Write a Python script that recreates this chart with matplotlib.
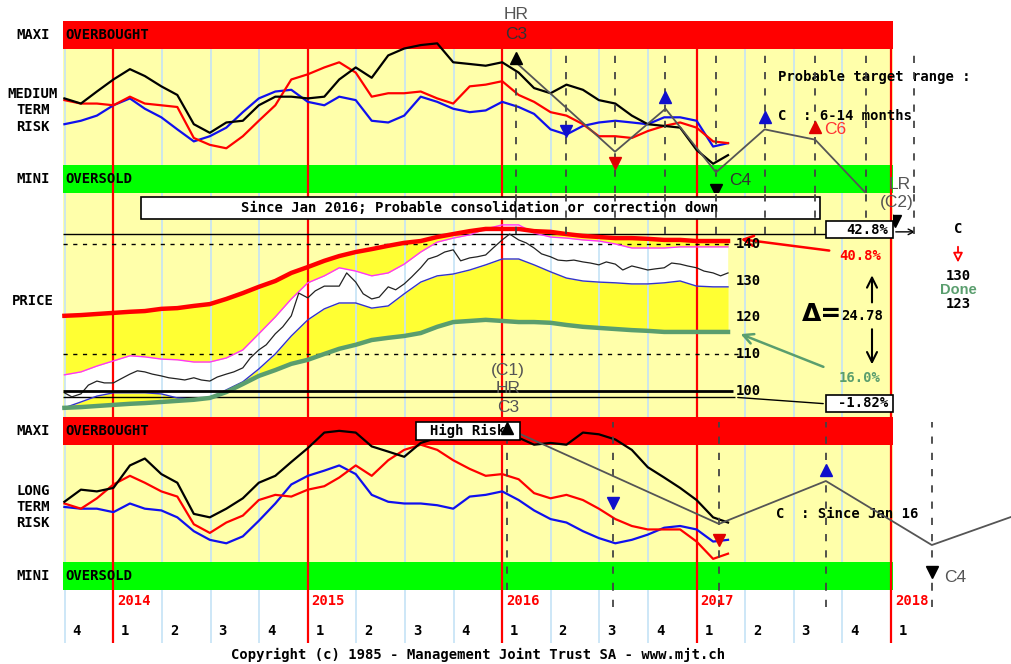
import numpy as np
import pandas as pd
import matplotlib
matplotlib.use("Agg")
import matplotlib.pyplot as plt
from matplotlib.patches import Rectangle

# ---------------- data ----------------
# risk indicators: 0 = bottom of OVERSOLD band, 100 = top of OVERBOUGHT band
medium_black = [55, 52, 59, 66, 72, 68, 62, 57, 40, 35, 41, 42, 51, 56, 56, 55, 56, 66, 73, 67,
                80, 84, 86, 87, 76, 75, 74, 76, 70, 61, 58, 63, 60, 54, 52, 45, 40, 39, 38, 25,
                17, 22]
medium_red = [54, 52, 52, 51, 56, 52, 51, 50, 32, 28, 26, 33, 42, 51, 66, 69, 73, 76, 70, 56,
              58, 58, 59, 55, 52, 62, 63, 65, 57, 53, 47, 45, 40, 33, 33, 32, 36, 39, 41, 38,
              30, 29]
medium_blue = [40, 42, 45, 51, 55, 49, 44, 37, 30, 33, 38, 47, 55, 59, 60, 53, 51, 56, 54, 42,
               41, 45, 56, 53, 49, 47, 48, 53, 50, 46, 37, 34, 39, 41, 42, 41, 40, 44, 44, 42,
               27, 29]
long_black = [51, 58, 57, 59, 72, 76, 67, 62, 44, 42, 47, 53, 62, 66, 74, 82, 91, 92, 91, 83,
              80, 77, 85, 88, 90, 88, 89, 91, 88, 84, 85, 84, 91, 90, 87, 81, 71, 65, 59, 52,
              42, 39]
long_red = [50, 47, 53, 61, 66, 62, 57, 54, 38, 33, 39, 43, 52, 55, 54, 58, 60, 65, 72, 66,
            75, 81, 84, 81, 75, 70, 66, 67, 64, 56, 53, 55, 52, 47, 41, 37, 35, 35, 35, 28,
            18, 21]
long_blue = [48, 47, 47, 45, 50, 47, 46, 42, 34, 29, 27, 31, 40, 50, 61, 66, 69, 72, 67, 55,
             51, 50, 50, 49, 47, 54, 55, 57, 52, 46, 41, 39, 34, 30, 27, 29, 32, 36, 37, 35,
             28, 29]

# price envelopes (monthly)
upper_env = [120.4, 120.6, 120.9, 121.2, 121.5, 121.7, 122.3, 122.5, 123.1, 123.6,
             125.0, 126.6, 128.3, 129.9, 132.1, 133.7, 135.4, 136.7, 137.8, 138.6,
             139.5, 140.3, 140.8, 141.9, 142.7, 143.5, 144.1, 144.1, 144.1, 143.5,
             143.3, 142.7, 142.2, 141.9, 141.6, 141.6, 141.4, 141.1, 141.1, 140.8,
             140.8, 140.8]
lower_env = [95.3, 95.5, 95.8, 96.1, 96.4, 96.6, 96.9, 97.2, 97.5, 98.0,
             99.6, 101.8, 104.0, 105.6, 107.3, 108.4, 110.0, 111.4, 112.5, 113.8,
             114.4, 114.9, 115.7, 117.4, 118.7, 119.0, 119.3, 119.0, 118.7, 118.7,
             118.5, 117.9, 117.4, 117.1, 116.8, 116.5, 116.3, 116.0, 116.0, 116.0,
             116.0, 116.0]
band_top = [104.3, 105.1, 106.7, 108.1, 109.5, 109.2, 108.6, 108.4, 107.8, 107.8,
            108.9, 111.1, 115.5, 120.1, 125.0, 129.4, 131.3, 133.5, 132.6, 131.3,
            132.1, 134.5, 137.8, 140.5, 141.6, 142.5, 144.1, 145.2, 145.2, 143.0,
            141.9, 141.6, 141.1, 140.8, 140.0, 138.9, 138.9, 138.9, 139.2, 139.2,
            139.2, 139.2]
band_bottom = [95.3, 96.9, 98.5, 99.4, 99.4, 99.4, 99.1, 98.0, 97.7, 98.0,
               100.2, 102.4, 105.9, 110.0, 114.9, 119.3, 122.3, 123.9, 123.9, 122.5,
               123.1, 126.4, 129.6, 131.3, 131.8, 132.9, 134.3, 135.9, 135.9, 134.3,
               132.4, 130.7, 129.9, 129.6, 129.4, 129.1, 129.1, 129.4, 129.9, 128.5,
               128.3, 128.3]
# price (twice a month)
price = [99.4, 98.3, 99.1, 101.5, 102.6, 102.1, 102.1, 103.2, 104.5, 105.4,
         105.1, 104.5, 104.0, 103.5, 103.2, 102.9, 103.5, 102.9, 102.6, 103.7,
         104.5, 105.1, 106.2, 108.9, 111.1, 112.5, 115.5, 117.4, 120.4, 126.6,
         125.3, 127.2, 128.5, 128.5, 128.5, 132.1, 129.6, 126.4, 125.0, 125.5,
         128.3, 127.5, 129.1, 131.0, 133.5, 135.9, 136.7, 137.8, 138.4, 135.4,
         136.2, 136.5, 137.0, 138.9, 141.1, 142.7, 141.1, 140.3, 138.9, 137.3,
         136.5, 135.6, 135.4, 135.6, 135.1, 134.8, 134.3, 135.1, 134.5, 132.9,
         134.0, 133.5, 132.9, 133.2, 133.5, 134.8, 134.5, 134.0, 133.5, 132.6,
         132.1, 131.3, 132.1]
price_ticks = [100, 110, 120, 130, 140]

# cycle projections, medium term panel
top_cycle_dates = [2016.07, 2016.58, 2016.84, 2017.10, 2017.35, 2017.61, 2017.87, 2018.01]
top_cycle_levels = [76, 24, 49, 12, 37, 31, 0, -13]
top_dash_dates = [2016.07, 2016.33, 2016.58, 2016.84, 2017.10, 2017.35, 2017.61, 2017.87, 2018.12]
top_marker_dates = [2016.07, 2016.33, 2016.58, 2016.84, 2017.10, 2017.35, 2017.61, 2018.02]
top_marker_levels = [78.5, 36, 17.4, 55.8, 1.7, 44, 38.4, -16]
top_marker_kinds = ['^', 'v', 'v', '^', 'v', '^', '^', 'v']
top_marker_colors = ['black', '#1010cc', '#e00000', '#1010cc', 'black', '#1010cc', '#e00000', 'black']

# cycle projections, long term panel
low_cycle_dates = [2016.025, 2017.115, 2017.665, 2018.21, 2018.617]
low_cycle_levels = [93.6, 38.2, 63, 26, 42.2]
low_marker_dates = [2016.025, 2016.57, 2017.115, 2017.665, 2018.21]
low_marker_levels = [93.6, 50.3, 28.9, 69.4, 10.4]
low_marker_kinds = ['^', 'v', 'v', '^', 'v']
low_marker_colors = ['black', '#1010cc', '#e00000', '#1010cc', 'black']

year_lines = [2014, 2015, 2016, 2017, 2018]

# ---------------- helpers ----------------
LIGHT_YELLOW = '#ffffaa'
BRIGHT_YELLOW = '#ffff33'
QBLUE = '#c5e3f6'
GREEN_LINE = '#5a9e6e'
GRAY = '#555555'
MONO = dict(family='DejaVu Sans Mono', weight='bold', fontsize=10)
SANS = dict(family='Liberation Sans', fontsize=12.5)


def to_year(dates):
    days = np.where(dates.is_leap_year, 366.0, 365.0)
    return dates.year.values + (dates.dayofyear.values - 1) / days


def at_x(px):
    # pixel column of the picture -> decimal year (for label placement)
    return 2016 + (px - 502.2) / 194.4


t_month = to_year(pd.date_range('2013-10-01', periods=len(upper_env), freq='MS'))
t_half = to_year(pd.date_range('2013-10-01', periods=len(price), freq='SMS'))
quarters = np.arange(2013.75, 2018.01, 0.25)
PANEL_L, PANEL_R = at_x(63), at_x(893)

fig = plt.figure(figsize=(10.11, 6.64), dpi=100)
H = 664.0


def add_ax(top, bottom):
    ax = fig.add_axes([0, 1 - bottom / H, 1, (bottom - top) / H])
    ax.set_xlim(at_x(0), at_x(1011))
    ax.axis('off')
    return ax


ax_top = add_ax(21, 193)
ax_px = add_ax(193, 417)
ax_low = add_ax(417, 590)
ax_t = add_ax(590, 643)
ax_top.set_ylim(0, 100)
ax_low.set_ylim(0, 100)
ax_px.set_ylim(92.8, 153.9)
ax_t.set_ylim(0, 1)


def risk_panel(ax, black, red, blue, label):
    ax.fill_between([PANEL_L, PANEL_R], 16, 84, color=LIGHT_YELLOW, lw=0, zorder=0)
    ax.vlines(quarters, 16, 84, color=QBLUE, lw=1.2, zorder=0.5)
    ax.fill_between([PANEL_L, PANEL_R], 84, 100, color='#ff0000', lw=0, zorder=1)
    ax.fill_between([PANEL_L, PANEL_R], 0, 16, color='#00ff00', lw=0, zorder=1)
    ax.vlines(year_lines, 0, 84, color='#ff0000', lw=1.6, zorder=2)
    ax.plot(t_month, blue, color='#1010ee', lw=1.6, zorder=3)
    ax.plot(t_month, red, color='#ff0000', lw=1.6, zorder=3.1)
    ax.plot(t_month, black, color='black', lw=1.6, zorder=3.2)
    ax.text(at_x(65), 92, 'OVERBOUGHT', va='center', ha='left', zorder=5, **MONO)
    ax.text(at_x(65), 8, 'OVERSOLD', va='center', ha='left', zorder=5, **MONO)
    ax.text(at_x(33), 92, 'MAXI', va='center', ha='center', **MONO)
    ax.text(at_x(33), 8, 'MINI', va='center', ha='center', **MONO)
    ax.text(at_x(33), 48, label, va='center', ha='center', linespacing=1.2, **MONO)


def markers(ax, dates, levels, kinds, colors):
    for d, v, k, c in zip(dates, levels, kinds, colors):
        ax.plot([d], [v], marker=k, color=c, ms=8, ls='none', clip_on=False, zorder=7)


# ---------------- medium term risk ----------------
risk_panel(ax_top, medium_black, medium_red, medium_blue, 'MEDIUM\nTERM\nRISK')
ax_top.vlines(top_dash_dates, 0, 84, color='#444444', lw=1.3, linestyles=(0, (4, 5)), zorder=4)
ax_top.plot(top_cycle_dates, top_cycle_levels, color=GRAY, lw=1.3, clip_on=False, zorder=4.5)
markers(ax_top, top_marker_dates, top_marker_levels, top_marker_kinds, top_marker_colors)
ax_top.text(at_x(516), 104, 'HR', ha='center', va='center', color=GRAY, **SANS)
ax_top.text(at_x(516), 92, 'C3', ha='center', va='center', color='#333333', **SANS)
ax_top.text(at_x(729), 7, 'C4', ha='left', va='center', color='#333333', **SANS)
ax_top.text(at_x(778), 67.4, 'Probable target range :', ha='left', va='center', **MONO)
ax_top.text(at_x(778), 44.8, 'C  : 6-14 months', ha='left', va='center', **MONO)
ax_top.text(at_x(824), 37.2, 'C6', ha='left', va='center', color='#ff3333', **SANS)
ax_top.text(at_x(900), 5, 'LR', ha='center', va='center', color=GRAY, **SANS)

# ---------------- price ----------------
ax_px.fill_between([PANEL_L, PANEL_R], 92.8, 153.9, color=LIGHT_YELLOW, lw=0, zorder=0)
ax_px.fill_between(t_month, lower_env, upper_env, color=BRIGHT_YELLOW, lw=0, zorder=1)
ax_px.fill_between(t_month, band_bottom, band_top, color='white', lw=0, zorder=1.2)
ax_px.vlines(quarters, 92.8, 153.9, color=QBLUE, lw=1.2, zorder=1.5)
ax_px.vlines(year_lines, 92.8, 153.9, color='#ff0000', lw=1.6, zorder=2)
ax_px.hlines([140, 110], PANEL_L, at_x(740), color='black', lw=1, linestyles=(0, (3, 4)), zorder=2.2)
ax_px.hlines(142.8, PANEL_L, at_x(826), color='black', lw=1, zorder=2.2)
ax_px.hlines(100, PANEL_L, at_x(733), color='black', lw=2, zorder=2.6)
ax_px.hlines(98.18, PANEL_L, at_x(735), color='black', lw=1, zorder=2.2)
ax_px.plot(t_month, band_top, color='#ff33ff', lw=1, zorder=2.3)
ax_px.plot(t_month, band_bottom, color='#3333cc', lw=1, zorder=2.3)
ax_px.plot(t_half, price, color='#222222', lw=0.9, zorder=2.4)
ax_px.plot(t_month, upper_env, color='#ff0000', lw=3.2, zorder=2.5)
ax_px.plot(t_month, lower_env, color=GREEN_LINE, lw=3.2, zorder=2.5)
ax_px.vlines(top_dash_dates, 142.8, 153.9, color='#444444', lw=1.3, linestyles=(0, (4, 5)), zorder=4)

ax_px.add_patch(Rectangle((at_x(141), 146.8), at_x(820) - at_x(141), 6.0,
                          fc='white', ec='black', lw=1.2, zorder=3))
ax_px.text(at_x(480), 149.8, 'Since Jan 2016; Probable consolidation or correction down',
           ha='center', va='center', zorder=3.5, **MONO)
for p in price_ticks:
    ax_px.text(at_x(748), p, str(p), ha='center', va='center', zorder=5, **MONO)

ax_px.text(at_x(33), 124.5, 'PRICE', ha='center', va='center', **MONO)
ax_px.add_patch(Rectangle((at_x(826), 141.6), at_x(893) - at_x(826), 4.7,
                          fc='white', ec='black', lw=1.2, zorder=5, clip_on=False))
ax_px.text(at_x(888), 143.9, '42.8%', ha='right', va='center', zorder=6, **MONO)
ax_px.add_patch(Rectangle((at_x(826), 94.2), at_x(893) - at_x(826), 4.6,
                          fc='white', ec='black', lw=1.2, zorder=5, clip_on=False))
ax_px.text(at_x(888), 96.5, '-1.82%', ha='right', va='center', zorder=6, **MONO)
ax_px.annotate('', xy=(at_x(826), 96.4), xytext=(at_x(735), 98.18),
               arrowprops=dict(arrowstyle='-', color='black', lw=1))
ax_px.annotate('', xy=(at_x(918), 143.3), xytext=(at_x(893), 143.3),
               arrowprops=dict(arrowstyle='->', color='black', lw=1))
ax_px.annotate('', xy=(at_x(738), 141.4), xytext=(at_x(832), 138.1),
               arrowprops=dict(arrowstyle='->', color='#ff0000', lw=1.8, mutation_scale=18))
ax_px.annotate('', xy=(at_x(738), 115.7), xytext=(at_x(826), 106.2),
               arrowprops=dict(arrowstyle='->', color=GREEN_LINE, lw=1.8, mutation_scale=18))
ax_px.text(at_x(860), 136.6, '40.8%', ha='center', va='center', color='#ff0000', **MONO)
ax_px.text(at_x(862), 120.4, '24.78', ha='center', va='center', **MONO)
ax_px.text(at_x(860), 103.4, '16.0%', ha='center', va='center', color=GREEN_LINE, **MONO)
ax_px.text(at_x(822), 120.9, '\u0394=', ha='center', va='center', fontsize=18,
           family='DejaVu Sans', weight='bold')
ax_px.annotate('', xy=(at_x(872), 132.2), xytext=(at_x(872), 123.3),
               arrowprops=dict(arrowstyle='->', color='black', lw=1.5, mutation_scale=18))
ax_px.annotate('', xy=(at_x(872), 106.4), xytext=(at_x(872), 117.5),
               arrowprops=dict(arrowstyle='->', color='black', lw=1.5, mutation_scale=18))
ax_px.text(at_x(958), 144.1, 'C', ha='center', va='center', **MONO)
ax_px.annotate('', xy=(at_x(958), 134.2), xytext=(at_x(958), 140.0),
               arrowprops=dict(arrowstyle='-|>', fc='white', ec='#ff0000', lw=1.3, mutation_scale=14))
ax_px.text(at_x(958), 131.3, '130', ha='center', va='center', **MONO)
ax_px.text(at_x(958), 127.5, 'Done', ha='center', va='center', color=GREEN_LINE,
           family='Liberation Sans', weight='bold', fontsize=10.5)
ax_px.text(at_x(958), 123.6, '123', ha='center', va='center', **MONO)
ax_px.text(at_x(897), 151.2, '(C2)', ha='center', va='center', color=GRAY, zorder=5, **SANS)
ax_px.text(at_x(508), 105.6, '(C1)', ha='center', va='center', color=GRAY, zorder=5, **SANS)
ax_px.text(at_x(508), 100.7, 'HR', ha='center', va='center', color=GRAY, zorder=5, **SANS)
ax_px.text(at_x(508), 95.5, 'C3', ha='center', va='center', color=GRAY, zorder=5, **SANS)

# ---------------- long term risk ----------------
risk_panel(ax_low, long_black, long_red, long_blue, 'LONG\nTERM\nRISK')
ax_low.vlines(low_marker_dates, 0, 97, color='#444444', lw=1.3, linestyles=(0, (4, 5)), zorder=4)
ax_low.plot(low_cycle_dates, low_cycle_levels, color=GRAY, lw=1.3, clip_on=False, zorder=4.5)
ax_low.add_patch(Rectangle((at_x(416), 86.7), at_x(520) - at_x(416), 10.4,
                           fc='white', ec='black', lw=1.2, zorder=6))
ax_low.text(at_x(468), 91.9, 'High Risk', ha='center', va='center', zorder=6.5, **MONO)
markers(ax_low, low_marker_dates, low_marker_levels, low_marker_kinds, low_marker_colors)
ax_low.text(at_x(776), 43.9, 'C  : Since Jan 16', ha='left', va='center', **MONO)
ax_low.text(at_x(944), 7.5, 'C4', ha='left', va='center', color=GRAY, **SANS)

# ---------------- time strip ----------------
ax_t.vlines(quarters, 0, 1, color=QBLUE, lw=1.2, zorder=0.5)
ax_t.vlines(year_lines, 0, 1, color='#ff0000', lw=1.6, zorder=1)
ax_t.vlines(low_marker_dates[1:], 0.68, 1, color='#444444', lw=1.3, linestyles=(0, (4, 5)), zorder=2)
for y in year_lines:
    ax_t.text(y + 0.02, 0.79, str(y), ha='left', va='center', color='#ff0000', **MONO)
for q in quarters:
    qn = int(round((q % 1) * 4)) + 1
    ax_t.text(q + 0.04, 0.23, str(qn), ha='left', va='center', **MONO)

fig.text(478 / 1011, 1 - 655 / H, 'Copyright (c) 1985 - Management Joint Trust SA - www.mjt.ch',
         ha='center', va='center', **MONO)

fig.savefig('out.png', dpi=100)
